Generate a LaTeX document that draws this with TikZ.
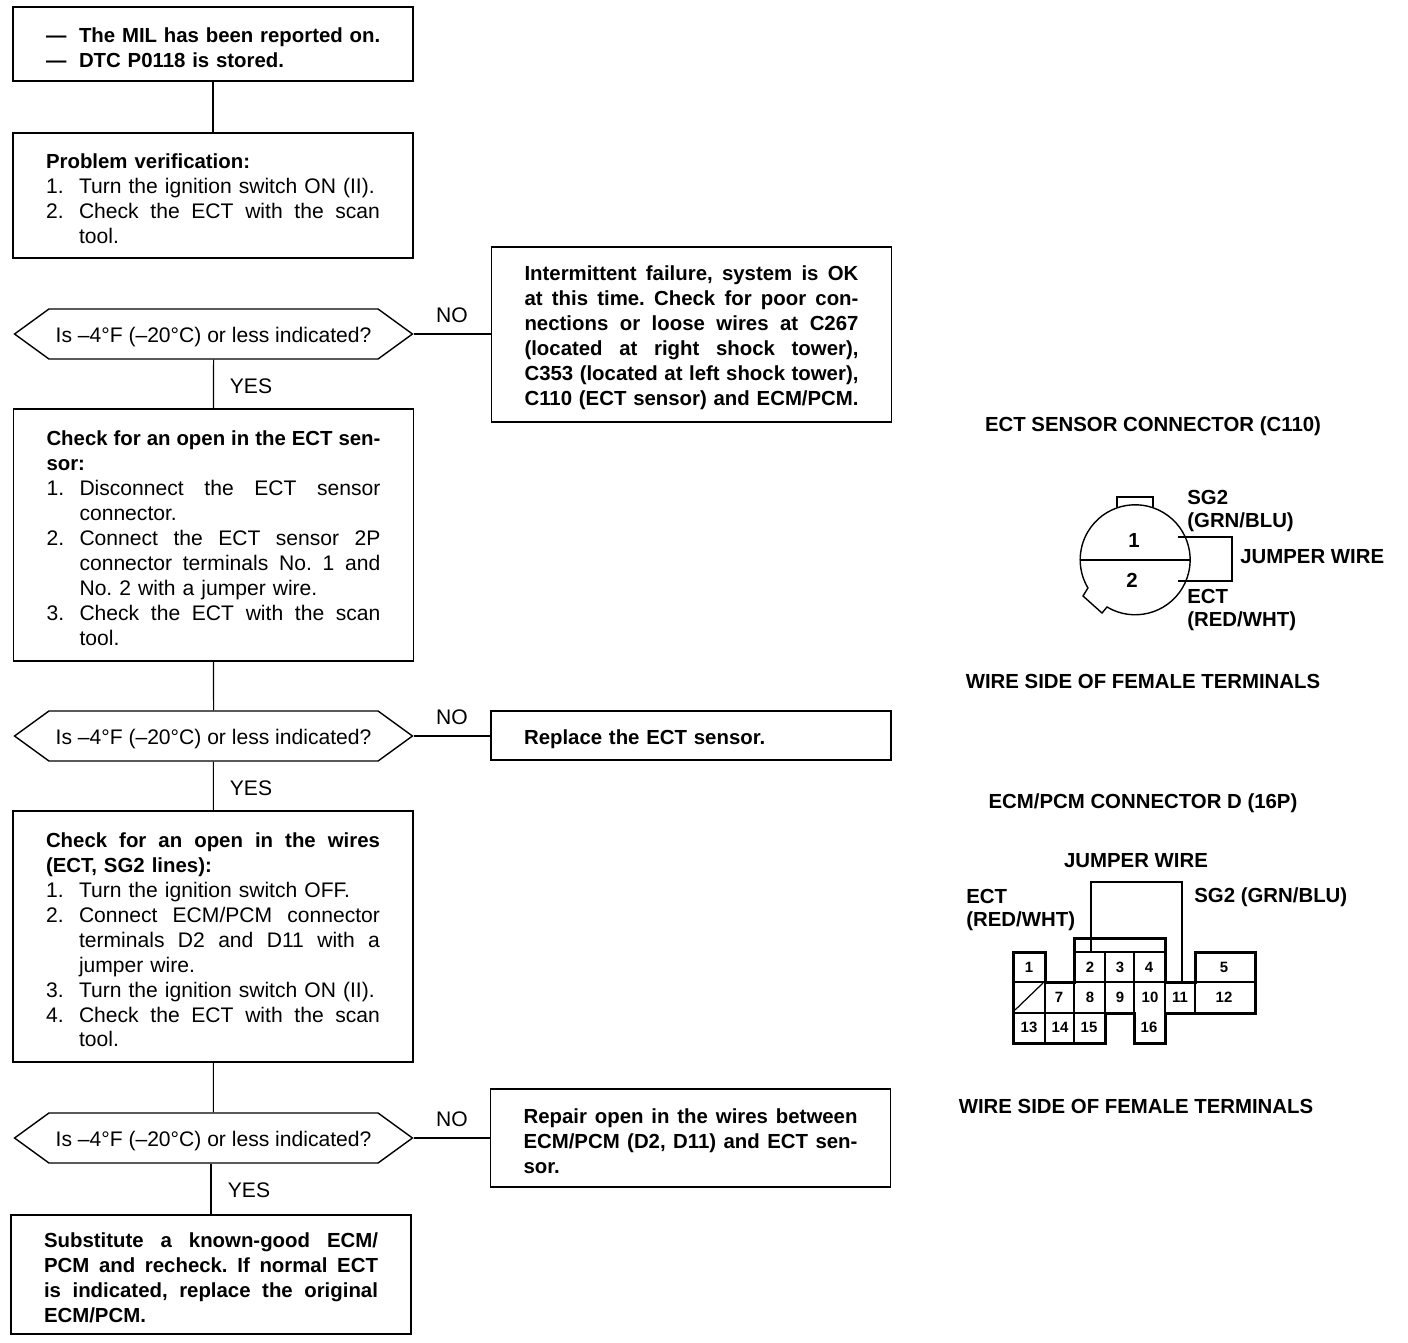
\documentclass[tikz,border=0pt]{standalone}
\usepackage{fontspec}
\setmainfont{Liberation Sans}
\usetikzlibrary{shapes.symbols}
\frenchspacing

\newcommand{\regfont}{\fontsize{12}{14.2}\selectfont}
\newcommand{\boldfont}{\fontsize{11.6}{14.2}\selectfont\bfseries}
% Lines of a box: stretched to the full width, and numbered with a hanging indent
\newcommand{\fitbox}[2]{\makebox[#1][s]{\spaceskip=.278em plus 1fil minus .1em\relax #2}}
\newcommand{\fitln}[1]{\fitbox{6.68cm}{#1}}
\newcommand{\numln}[2]{\mbox{\makebox[0.66cm][l]{#1}#2}}
\newcommand{\numfit}[2]{\makebox[0.66cm][l]{#1}\fitbox{6.02cm}{#2}}
\newcommand{\headln}[1]{{\boldfont #1}}
\newcommand{\asktxt}{\raisebox{-0.16cm}[0pt][0pt]{Is --4°F (--20°C) or less indicated?}}

\tikzset{
  txt/.style={font=\regfont, inner sep=0pt},
  boldtxt/.style={font=\boldfont, inner sep=0pt},
  boxnode/.style={draw, line width=0.8pt, align=left, inner xsep=0.66cm, inner ysep=0pt,
    text width=6.68cm, execute at begin node={\rule{0pt}{0.43cm}}},
  decnode/.style={draw, line width=0.8pt, signal, signal to=east and west, signal pointer angle=72,
    minimum width=7.96cm, minimum height=1cm, inner sep=0pt, font=\regfont},
  wire/.style={line width=0.6pt},
  outline/.style={line width=0.8pt},
  shell/.style={line width=1.7pt, line join=miter},
  grid/.style={line width=0.7pt}
}

\begin{document}
\begin{tikzpicture}[x=0.02cm, y=-0.02cm]
\useasboundingbox (0,0) rectangle (1408,1342);

% Left column of the chart
\node[boxnode, font=\boldfont, minimum height=1.48cm] (start) at (213,44)
  {\numln{---}{The MIL has been reported on.}\\ \numln{---}{DTC P0118 is stored.}};
\node[boxnode, font=\regfont, minimum height=2.5cm] (verify) at (213,195.5)
  {\headln{Problem verification:}\\
   \numln{1.}{Turn the ignition switch ON (II).}\\
   \numfit{2.}{Check the ECT with the scan}\\
   \numln{}{tool.}};
\node[decnode] (ask1) at (213.5,334) {\asktxt};
\node[boxnode, font=\regfont, minimum height=5.04cm] (sensor) at (213.5,535)
  {\headln{\fitln{Check for an open in the ECT sen-}}\\
   \headln{sor:}\\
   \numfit{1.}{Disconnect the ECT sensor}\\
   \numln{}{connector.}\\
   \numfit{2.}{Connect the ECT sensor 2P}\\
   \numfit{}{connector terminals No. 1 and}\\
   \numln{}{No. 2 with a jumper wire.}\\
   \numfit{3.}{Check the ECT with the scan}\\
   \numln{}{tool.}};
\node[decnode] (ask2) at (213.5,736) {\asktxt};
\node[boxnode, font=\regfont, minimum height=5.02cm] (wires) at (213,936.5)
  {\headln{\fitln{Check for an open in the wires}}\\
   \headln{(ECT, SG2 lines):}\\
   \numln{1.}{Turn the ignition switch OFF.}\\
   \numfit{2.}{Connect ECM/PCM connector}\\
   \numfit{}{terminals D2 and D11 with a}\\
   \numln{}{jumper wire.}\\
   \numln{3.}{Turn the ignition switch ON (II).}\\
   \numfit{4.}{Check the ECT with the scan}\\
   \numln{}{tool.}};
\node[decnode] (ask3) at (213.5,1138) {\asktxt};
\node[boxnode, font=\boldfont, minimum height=2.38cm] (ecm) at (211,1274.5)
  {\fitln{Substitute a known-good ECM/}\\
   \fitln{PCM and recheck. If normal ECT}\\
   \fitln{is indicated, replace the original}\\
   ECM/PCM.};

% Right column of the chart
\node[boxnode, font=\boldfont, minimum height=3.5cm] (fail) at (691.5,334.5)
  {\fitln{Intermittent failure, system is OK}\\
   \fitln{at this time. Check for poor con-}\\
   \fitln{nections or loose wires at C267}\\
   \fitln{(located at right shock tower),}\\
   \fitln{C353 (located at left shock tower),}\\
   \mbox{C110 (ECT sensor) and ECM/PCM.}};
\node[boxnode, font=\boldfont, minimum height=0.98cm] (replace) at (691,735.5) {Replace the ECT sensor.};
\node[boxnode, font=\boldfont, minimum height=1.96cm] (repair) at (690.5,1138)
  {\fitln{Repair open in the wires between}\\
   \fitln{ECM/PCM (D2, D11) and ECT sen-}\\
   sor.};

% Connectors
\draw[wire] (start) -- (verify);
\draw[wire] (verify.south) -- (verify.south -| ask1.north);
\draw[wire] (ask1) -- (sensor);
\draw[wire] (sensor) -- (ask2);
\draw[wire] (ask2) -- (wires);
\draw[wire] (wires) -- (ask3);
\draw[wire] (ask3.south -| ecm.north) -- (ecm.north);
\draw[wire] (ask1.east) -- (ask1.east -| fail.west);
\draw[wire] (ask2.east) -- (ask2.east -| replace.west);
\draw[wire] (ask3.east) -- (ask3.east -| repair.west);

% Branch labels
\node[txt] (no1) at (452,315) {NO};
\node[txt] (yes1) at (251,386) {YES};
\node[txt] (no2) at (452,717) {NO};
\node[txt] (yes2) at (251,788) {YES};
\node[txt] (no3) at (452,1119) {NO};
\node[txt] (yes3) at (249,1190) {YES};

% ECT sensor connector
\node[boldtxt] (title1) at (1153,426) {ECT SENSOR CONNECTOR (C110)};
\draw[outline] (1107,607) arc[start angle=239.2, end angle=570.8, radius=1.1cm]
  -- (1083,596) -- (1102,613) -- cycle;
\draw[outline] (1117,507) -- (1117,497) -- (1153,497) -- (1153,507);
\draw[outline] (1081,560) -- (1190,560);
\draw[outline] (1178,537) -- (1232,537) -- (1232,581) -- (1178,581);
\node[boldtxt] (pin1) at (1134,540) {1};
\node[boldtxt] (pin2) at (1132,580) {2};
\node[boldtxt, anchor=west] (sgtwo) at (1187,497) {SG2};
\node[boldtxt, anchor=west] (sgcol) at (1187,522) {(GRN/BLU)};
\node[boldtxt, anchor=west] (jump1) at (1240,557) {JUMPER WIRE};
\node[boldtxt, anchor=west] (ect1) at (1187,596) {ECT};
\node[boldtxt, anchor=west] (ectcol) at (1187,621) {(RED/WHT)};
\node[boldtxt] (side1) at (1143,681) {WIRE SIDE OF FEMALE TERMINALS};

% ECM/PCM connector D
\node[boldtxt] (title2) at (1143,803) {ECM/PCM CONNECTOR D (16P)};
\node[boldtxt] (jump2) at (1136,861) {JUMPER WIRE};
\node[boldtxt, anchor=west] (ect2) at (966,896) {ECT};
\node[boldtxt, anchor=west] (ectcol2) at (966,921) {(RED/WHT)};
\node[boldtxt, anchor=west] (sgtwo2) at (1194,897) {SG2 (GRN/BLU)};

% Thin lines between the cavities
\draw[grid] (1013,982) -- (1255,982);
\draw[grid] (1013,1013) -- (1105,1013);
\draw[grid] (1074,952) -- (1165,952);
\draw[grid] (1015,1010) -- (1043,983);
\foreach \xa/\ya/\yb in {1045/982/1043, 1074/982/1043, 1105/952/1013, 1134/952/1013, 1165/982/1013, 1195/982/1013}
  \draw[grid] (\xa,\ya) -- (\xa,\yb);
\draw[line width=1pt] (1091,952) -- (1091,882) -- (1182,882) -- (1182,982);
\draw[shell] (1013,952) -- (1045,952) -- (1045,982) -- (1074,982) -- (1074,938) -- (1165,938)
  -- (1165,982) -- (1195,982) -- (1195,952) -- (1255,952) -- (1255,1013) -- (1165,1013)
  -- (1165,1043) -- (1134,1043) -- (1134,1013) -- (1105,1013) -- (1105,1043) -- (1013,1043) -- cycle;

% Cavity numbers
\foreach \num/\xa/\ya in {1/1029/967, 2/1090/967, 3/1120/967, 4/1149/967, 5/1224/967,
    7/1059/997, 8/1090/997, 9/1120/997, 10/1150/997, 11/1180/997, 12/1224/997,
    13/1029/1027, 14/1060/1027, 15/1089/1027, 16/1149/1027}
  \node[font=\fontsize{8.5}{10}\selectfont\bfseries, inner sep=0pt] (cav\num) at (\xa,\ya) {\num};

\node[boldtxt] (side2) at (1136,1106) {WIRE SIDE OF FEMALE TERMINALS};

\end{tikzpicture}
\end{document}
